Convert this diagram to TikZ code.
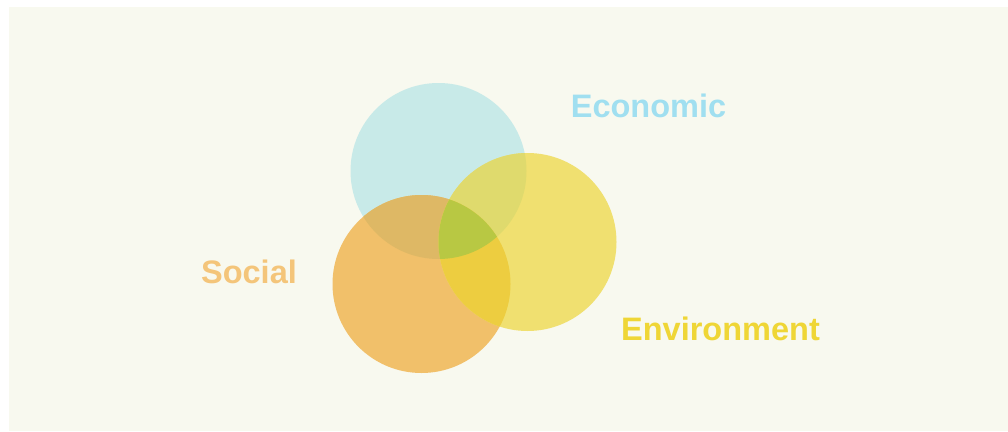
\documentclass[tikz,border=0pt]{standalone}
\usepackage{fontspec}
\setmainfont{Liberation Sans}
\definecolor{paper}{HTML}{F8F9EF}
% single-circle fills
\definecolor{ecofill}{HTML}{C8EAE8}
\definecolor{envfill}{HTML}{F0E070}
\definecolor{socfill}{HTML}{F1C06A}
% overlap fills
\definecolor{ecosoc}{HTML}{DEB865}
\definecolor{ecoenv}{HTML}{DFDA6D}
\definecolor{socenv}{HTML}{EDCD40}
\definecolor{allthree}{HTML}{B8C843}
% label colours
\definecolor{ecotext}{HTML}{A0DFF0}
\definecolor{soctext}{HTML}{F4C57A}
\definecolor{envtext}{HTML}{EFD636}
\tikzset{
  pillar/.style={font=\fontsize{32.5}{36}\selectfont\bfseries, inner sep=0pt},
}
\begin{document}
\begin{tikzpicture}[x=1pt,y=-1pt]
\useasboundingbox (0,0) rectangle (1008,431);
\fill[white] (0,0) rectangle (1008,431);
\fill[paper] (9,7) rectangle (1008,431);

% circle centres
\coordinate (cE) at (438.5,171);
\coordinate (cS) at (421.5,284);
\coordinate (cV) at (527.5,242);

% the three circles
\fill[ecofill] (cE) circle[radius=88pt];
\fill[socfill] (cS) circle[radius=89pt];
\fill[envfill] (cV) circle[radius=89pt];

% pairwise overlaps
\begin{scope}
  \clip (cE) circle[radius=88pt];
  \fill[ecosoc] (cS) circle[radius=89pt];
\end{scope}
\begin{scope}
  \clip (cE) circle[radius=88pt];
  \fill[ecoenv] (cV) circle[radius=89pt];
\end{scope}
\begin{scope}
  \clip (cS) circle[radius=89pt];
  \fill[socenv] (cV) circle[radius=89pt];
\end{scope}
% centre where all three meet
\begin{scope}
  \clip (cE) circle[radius=88pt];
  \clip (cS) circle[radius=89pt];
  \fill[allthree] (cV) circle[radius=89pt];
\end{scope}

% labels
\node[pillar, text=ecotext] (econ) at (648.5,105.5) {Economic};
\node[pillar, text=soctext] (soc) at (249,272) {Social};
\node[pillar, text=envtext] (env) at (720.5,328.5) {Environment};
\end{tikzpicture}
\end{document}
